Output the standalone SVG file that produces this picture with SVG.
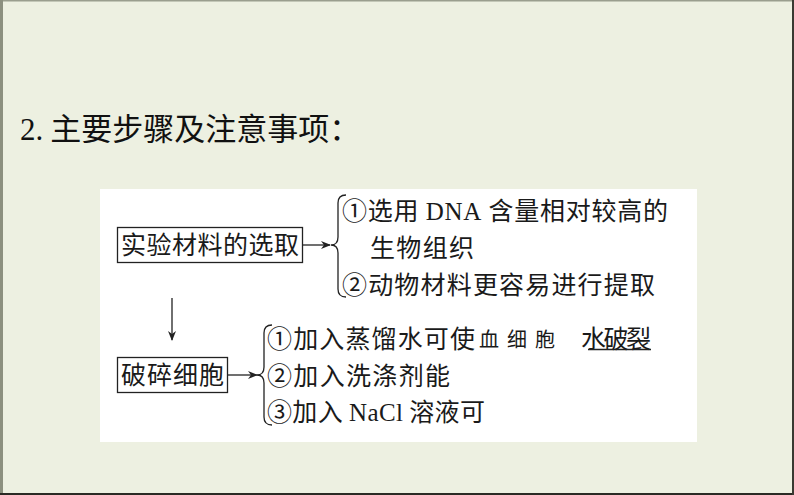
<svg xmlns="http://www.w3.org/2000/svg" width="794" height="495" viewBox="0 0 794 495">
<style>
.t{font-family:"Noto Sans CJK SC","Liberation Serif",sans-serif;font-size:25px;fill:#1a1a1a}
.lat{font-family:"Liberation Serif",serif}
.box{fill:none;stroke:#222;stroke-width:1.3}
.ln{fill:none;stroke:#222;stroke-width:1.3}
</style>
<defs>
<marker id="ah" markerWidth="10" markerHeight="8" refX="9" refY="4" orient="auto" markerUnits="userSpaceOnUse">
<path d="M0,0 L10,4 L0,8 L3,4 Z" fill="#222"/>
</marker>
</defs>
<rect x="0" y="0" width="794" height="495" fill="#EDF0E1"/>
<rect x="0" y="0" width="794" height="1.5" fill="#9A9E8E"/>
<rect x="0" y="0" width="3" height="495" fill="#8C907F"/>
<rect x="0" y="493" width="794" height="2" fill="#2A2A24"/>
<rect x="792" y="0" width="2" height="495" fill="#3A3A32"/>
<rect x="100" y="189" width="597" height="253" fill="#FFFFFF"/>
<text x="20" y="140" style="font-family:'Noto Sans CJK SC',sans-serif;font-size:31px;fill:#111"><tspan class="lat">2.</tspan> 主要步骤及注意事项：</text>

<g id="n1">
<rect class="box" x="117.5" y="227.5" width="185" height="35"/>
<text class="t" x="121" y="254" textLength="178">实验材料的选取</text>
</g>
<g id="n2">
<text class="t" x="342" y="220" textLength="326">①选用 <tspan class="lat">DNA</tspan> 含量相对较高的</text>
<text class="t" x="370" y="257" textLength="104">生物组织</text>
<text class="t" x="342" y="294" textLength="313">②动物材料更容易进行提取</text>
</g>
<g id="n3">
<rect class="box" x="117.5" y="357.5" width="110" height="35"/>
<text class="t" x="121" y="384" textLength="103">破碎细胞</text>
</g>
<g id="n4">
<text class="t" x="267" y="348" textLength="208">①加入蒸馏水可使</text>
<text class="t" x="479" y="347" style="font-size:20px" textLength="76">血细胞</text>
<text class="t" x="581" y="348" textLength="70">水破裂</text>
<line x1="588" y1="349.5" x2="651" y2="349.5" stroke="#222" stroke-width="1.3"/>
<text class="t" x="267" y="385" textLength="183">②加入洗涤剂能</text>
<text class="t" x="267" y="421" textLength="218">③加入 <tspan class="lat">NaCl</tspan> 溶液可</text>
</g>
<g id="connectors">
<line class="ln" x1="303" y1="245" x2="330" y2="245" marker-end="url(#ah)"/>
<path class="ln" d="M346,195 Q338,195 338,203 L338,237 Q338,245 331,245 Q338,245 338,253 L338,289 Q338,297 346,297"/>
<line class="ln" x1="172" y1="298" x2="172" y2="340" marker-end="url(#ah)"/>
<line class="ln" x1="228" y1="375" x2="257" y2="375" marker-end="url(#ah)"/>
<path class="ln" d="M272,325 Q264,325 264,333 L264,367 Q264,375 257,375 Q264,375 264,383 L264,417 Q264,425 272,425"/>
</g>
</svg>
